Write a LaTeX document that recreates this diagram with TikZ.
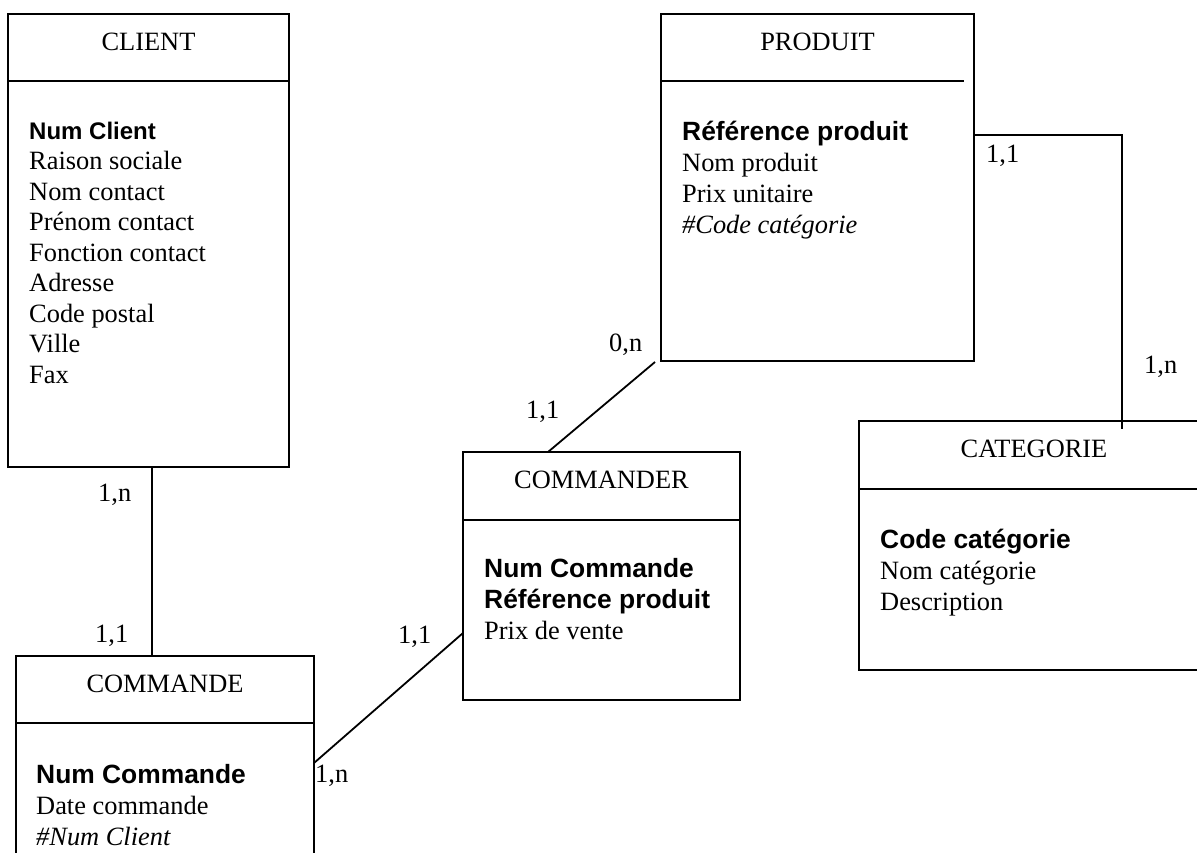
\documentclass[tikz,border=0pt]{standalone}
\usepackage{fontspec}
\setmainfont{Liberation Serif}
\newfontfamily\keyfont{Liberation Sans}
\usetikzlibrary{calc}
\newcommand\regsize{\fontsize{26.4}{30.5}\selectfont}
\newcommand\keysize{\fontsize{26.4}{30.5}\selectfont}
\newcommand\smallkeysize{\fontsize{24}{30.5}\selectfont}
\tikzset{
  ent/.style={draw, line width=1.8pt, rectangle, anchor=north west, inner sep=0pt, outer sep=0pt},
  link/.style={line width=1.8pt},
  ttl/.style={anchor=base, inner sep=0pt, font=\regsize},
  attr/.style={anchor=base west, inner sep=0pt, font=\regsize},
  keyattr/.style={anchor=base west, inner sep=0pt, font=\keyfont\bfseries\keysize},
  smallkeyattr/.style={anchor=base west, inner sep=0pt, font=\keyfont\bfseries\smallkeysize},
  fkattr/.style={anchor=base west, inner sep=0pt, font=\itshape\regsize},
  card/.style={anchor=base west, inner sep=0pt, font=\regsize}
}
\begin{document}
\begin{tikzpicture}[x=1pt,y=-1pt]
\clip (0,0) rectangle (1197,852);
\fill[white] (0,0) rectangle (1197,852);

% ---------- CLIENT ----------
\node[ent, minimum width=281pt, minimum height=453pt] (client) at (8,14) {};
\draw[link] (client.west |- 0,81) -- (client.east |- 0,81);
\node[ttl] (clientT) at (148.5,50) {CLIENT};
\node[smallkeyattr] (cl1) at (29,139) {Num Client};
\node[attr] (cl2) at (29,169.5) {Raison sociale};
\node[attr] (cl3) at (29,200) {Nom contact};
\node[attr] (cl4) at (29,230.5) {Prénom contact};
\node[attr] (cl5) at (29,261) {Fonction contact};
\node[attr] (cl6) at (29,291.5) {Adresse};
\node[attr] (cl7) at (29,322) {Code postal};
\node[attr] (cl8) at (29,352.5) {Ville};
\node[attr] (cl9) at (29,383) {Fax};

% ---------- PRODUIT ----------
\node[ent, minimum width=313pt, minimum height=347pt] (produit) at (661,14) {};
\draw[link] (produit.west |- 0,81) -- (964,81);
\node[ttl] (produitT) at (817.5,50) {PRODUIT};
\node[keyattr] (pr1) at (682,140) {Référence produit};
\node[attr] (pr2) at (682,171) {Nom produit};
\node[attr] (pr3) at (682,202) {Prix unitaire};
\node[fkattr] (pr4) at (682,233) {\#Code catégorie};

% ---------- COMMANDER ----------
\node[ent, minimum width=277pt, minimum height=248pt] (commander) at (463,452) {};
\draw[link] (commander.west |- 0,520) -- (commander.east |- 0,520);
\node[ttl] (commanderT) at (601.5,488) {COMMANDER};
\node[keyattr] (cr1) at (484,577) {Num Commande};
\node[keyattr] (cr2) at (484,608) {Référence produit};
\node[attr] (cr3) at (484,639) {Prix de vente};

% ---------- CATEGORIE ----------
\node[ent, minimum width=350pt, minimum height=249pt] (categorie) at (859,421) {};
\draw[link] (categorie.west |- 0,489) -- (categorie.east |- 0,489);
\node[ttl] (categorieT) at (1034,457) {CATEGORIE};
\node[keyattr] (ca1) at (880,548) {Code catégorie};
\node[attr] (ca2) at (880,579) {Nom catégorie};
\node[attr] (ca3) at (880,610) {Description};

% ---------- COMMANDE ----------
\node[ent, minimum width=298pt, minimum height=230pt] (commande) at (16,656) {};
\draw[link] (commande.west |- 0,723) -- (commande.east |- 0,723);
\node[ttl] (commandeT) at (165,692) {COMMANDE};
\node[keyattr] (co1) at (36,783) {Num Commande};
\node[attr] (co2) at (36,814) {Date commande};
\node[fkattr] (co3) at (36,845) {\#Num Client};

% ---------- connectors ----------
\draw[link] ($(client.south west)+(144,0)$) -- ($(commande.north west)+(136,0)$);
\draw[link] ($(commande.north east)+(0,107)$) -- ($(commander.north west)+(0,181)$);
\draw[link] ($(produit.south west)+(-6,1)$) -- ($(commander.north west)+(85,0)$);
\coordinate (bend) at ($(produit.north east)+(148,121)$);
\draw[link] ($(produit.north east)+(0,121)$) -- (bend) -- ($(categorie.north west)+(263,8)$);

% ---------- cardinalities ----------
\node[card] (k1) at (98,501) {1,n};
\node[card] (k2) at (95,642) {1,1};
\node[card] (k3) at (398,643) {1,1};
\node[card] (k4) at (315,782) {1,n};
\node[card] (k5) at (609,351) {0,n};
\node[card] (k6) at (526,418) {1,1};
\node[card] (k7) at (986,162) {1,1};
\node[card] (k8) at (1144,373) {1,n};
\end{tikzpicture}
\end{document}
